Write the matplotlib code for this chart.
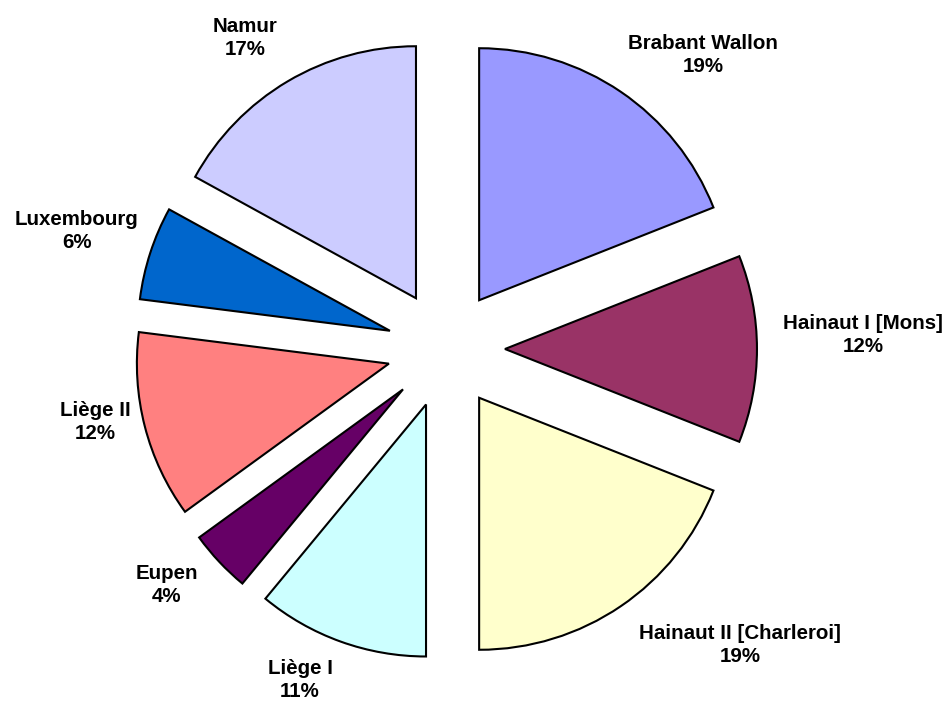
import matplotlib
matplotlib.use("Agg")
import matplotlib.pyplot as plt

# Data
regions = ["Brabant Wallon", "Hainaut I [Mons]", "Hainaut II [Charleroi]", "Liège I",
           "Eupen", "Liège II", "Luxembourg", "Namur"]
shares = [19, 12, 19, 11, 4, 12, 6, 17]
colors = ["#9999FF", "#993366", "#FFFFCC", "#CCFFFF", "#660066", "#FF8080", "#0066CC", "#CCCCFF"]

# label centres in pixels (x from left, y from top)
label_pos = [(703, 55), (863, 335), (740, 645), (300, 680),
             (167, 585), (95, 422), (77, 231), (245, 38)]

W, H = 952, 707
cx, cy, r = 446, 349, 252   # pie centre and radius in pixels

fig = plt.figure(figsize=(W / 100, H / 100), dpi=100)
ax = fig.add_axes([0, 0, 1, 1])

ax.pie(shares, colors=colors, startangle=90, counterclock=False,
       explode=[0.234] * len(shares), radius=1,
       wedgeprops=dict(edgecolor="black", linewidth=1.5))

ax.set_xlim(-cx / r, (W - cx) / r)
ax.set_ylim(-(H - cy) / r, cy / r)
ax.set_aspect("equal")
ax.axis("off")

for name, val, (px, py) in zip(regions, shares, label_pos):
    fig.text(px / W, 1 - py / H, name + "\n" + str(val) + "%", ha="center", va="center",
             fontsize=14.8, fontweight="bold", family="Liberation Sans", linespacing=1.3)

fig.savefig("out.png", dpi=100)
